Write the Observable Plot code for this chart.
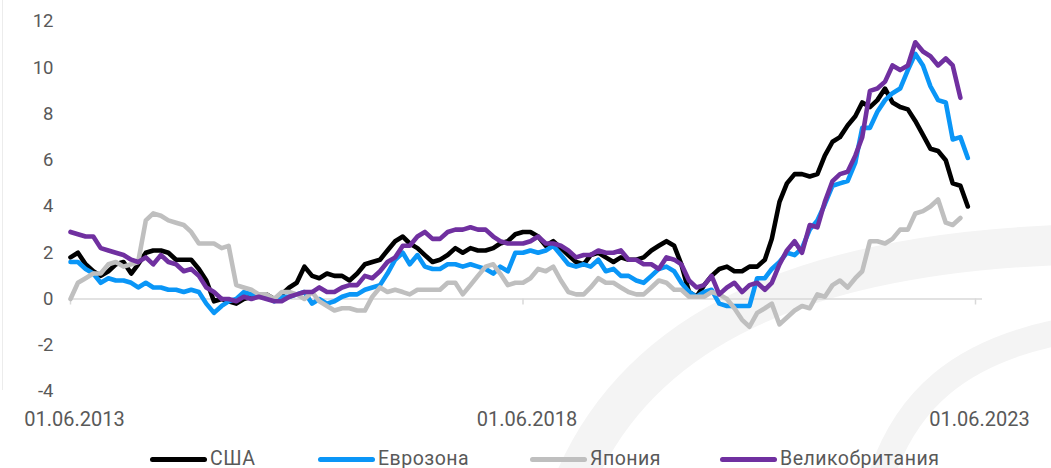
<!DOCTYPE html>
<html><head><meta charset="utf-8">
<script src="https://cdn.jsdelivr.net/npm/d3@7"></script>
<script src="https://cdn.jsdelivr.net/npm/@observablehq/plot@0.6"></script>
<style>
body{margin:0;background:#fff;font-family:Roboto,sans-serif;width:1051px;height:468px;overflow:hidden;position:relative}
#bg{position:absolute;left:0;top:0}
#chart{position:absolute;left:0;top:0}
#chart svg{background:transparent}
#legend{position:absolute;top:449px;left:0;width:1051px;height:20px;font-family:Roboto,sans-serif;font-size:19.5px;letter-spacing:0.5px;color:#595959}
.item{position:absolute;top:0;height:20px;line-height:20px;display:flex;align-items:center;white-space:nowrap}
.sw{width:57px;height:5px;border-radius:3px;margin-right:3px}
#edge{position:absolute;left:2px;top:0;width:1px;height:390px;background:#ececec}
</style></head><body>
<svg id="bg" width="1051" height="468">
  <path d="M 575 480 C 640 330 800 255 1060 245" fill="none" stroke="#f4f4f4" stroke-width="40"/>
  <path d="M 880 480 C 905 400 960 352 1060 332" fill="none" stroke="#f4f4f4" stroke-width="26"/>
</svg>
<div id="edge"></div>
<div id="chart"></div>
<div id="legend"></div>
<script>
const seriesNames = ["США", "Еврозона", "Япония", "Великобритания"];
const seriesColors = ["#000000", "#0a96f7", "#bfbfbf", "#7030a0"];
const firstMonth = "2013-06-01";
const lastMonth = "2023-06-01";
const xTickDates = ["2013-06-01", "2018-06-01", "2023-06-01"];
const yTicks = [-4, -2, 0, 2, 4, 6, 8, 10, 12];

// monthly values from Jun 2013
const usa = [
  1.8, 2.0, 1.5, 1.2, 1.0, 1.2, 1.5,
  1.6, 1.1, 1.5, 2.0, 2.1, 2.1, 2.0, 1.7, 1.7, 1.7, 1.3, 0.8,
  -0.1, 0.0, -0.1, -0.2, 0.0, 0.1, 0.2, 0.2, 0.0, 0.2, 0.5, 0.7,
  1.4, 1.0, 0.9, 1.1, 1.0, 1.0, 0.8, 1.1, 1.5, 1.6, 1.7, 2.1,
  2.5, 2.7, 2.4, 2.2, 1.9, 1.6, 1.7, 1.9, 2.2, 2.0, 2.2, 2.1,
  2.1, 2.2, 2.4, 2.5, 2.8, 2.9, 2.9, 2.7, 2.3, 2.5, 2.2, 1.9,
  1.6, 1.5, 1.9, 2.0, 1.8, 1.6, 1.8, 1.7, 1.7, 1.8, 2.1, 2.3,
  2.5, 2.3, 1.5, 0.3, 0.1, 0.6, 1.0, 1.3, 1.4, 1.2, 1.2, 1.4,
  1.4, 1.7, 2.6, 4.2, 5.0, 5.4, 5.4, 5.3, 5.4, 6.2, 6.8, 7.0,
  7.5, 7.9, 8.5, 8.3, 8.6, 9.1, 8.5, 8.3, 8.2, 7.7, 7.1, 6.5,
  6.4, 6.0, 5.0, 4.9, 4.0
];
const eurozone = [
  1.6, 1.6, 1.3, 1.1, 0.7, 0.9, 0.8,
  0.8, 0.7, 0.5, 0.7, 0.5, 0.5, 0.4, 0.4, 0.3, 0.4, 0.3, -0.2,
  -0.6, -0.3, -0.1, 0.0, 0.3, 0.2, 0.2, 0.1, -0.1, 0.1, 0.1, 0.2,
  0.3, -0.2, 0.0, -0.2, -0.1, 0.1, 0.2, 0.2, 0.4, 0.5, 0.6, 1.1,
  1.7, 2.0, 1.5, 1.9, 1.4, 1.3, 1.3, 1.5, 1.5, 1.4, 1.5, 1.4,
  1.3, 1.1, 1.4, 1.2, 2.0, 2.0, 2.1, 2.0, 2.1, 2.3, 1.9, 1.5,
  1.4, 1.5, 1.4, 1.7, 1.2, 1.3, 1.0, 1.0, 0.8, 0.7, 1.0, 1.3,
  1.4, 1.2, 0.7, 0.3, 0.1, 0.3, 0.4, -0.2, -0.3, -0.3, -0.3, -0.3,
  0.9, 0.9, 1.3, 1.6, 2.0, 1.9, 2.2, 3.0, 3.4, 4.1, 4.9, 5.0,
  5.1, 5.9, 7.4, 7.4, 8.1, 8.6, 8.9, 9.1, 9.9, 10.6, 10.1, 9.2,
  8.6, 8.5, 6.9, 7.0, 6.1
];
const japan = [
  0.0, 0.7, 0.9, 1.1, 1.1, 1.5, 1.6,
  1.4, 1.5, 1.6, 3.4, 3.7, 3.6, 3.4, 3.3, 3.2, 2.9, 2.4, 2.4,
  2.4, 2.2, 2.3, 0.6, 0.5, 0.4, 0.2, 0.2, 0.0, 0.3, 0.3, 0.2,
  0.0, 0.3, -0.1, -0.3, -0.5, -0.4, -0.4, -0.5, -0.5, 0.1, 0.5, 0.3,
  0.4, 0.3, 0.2, 0.4, 0.4, 0.4, 0.4, 0.7, 0.7, 0.2, 0.6, 1.0,
  1.4, 1.5, 1.1, 0.6, 0.7, 0.7, 0.9, 1.3, 1.2, 1.4, 0.8, 0.3,
  0.2, 0.2, 0.5, 0.9, 0.7, 0.7, 0.5, 0.3, 0.2, 0.2, 0.5, 0.8,
  0.7, 0.4, 0.4, 0.1, 0.1, 0.1, 0.3, 0.2, 0.0, -0.4, -0.9, -1.2,
  -0.6, -0.4, -0.2, -1.1, -0.8, -0.5, -0.3, -0.4, 0.2, 0.1, 0.6, 0.8,
  0.5, 0.9, 1.2, 2.5, 2.5, 2.4, 2.6, 3.0, 3.0, 3.7, 3.8, 4.0,
  4.3, 3.3, 3.2, 3.5
];
const uk = [
  2.9, 2.8, 2.7, 2.7, 2.2, 2.1, 2.0,
  1.9, 1.7, 1.6, 1.8, 1.5, 1.9, 1.6, 1.5, 1.2, 1.3, 1.0, 0.5,
  0.3, 0.0, 0.0, -0.1, 0.1, 0.0, 0.1, 0.0, -0.1, -0.1, 0.1, 0.2,
  0.3, 0.3, 0.5, 0.3, 0.3, 0.5, 0.6, 0.6, 1.0, 0.9, 1.2, 1.6,
  1.8, 2.3, 2.3, 2.7, 2.9, 2.6, 2.6, 2.9, 3.0, 3.0, 3.1, 3.0,
  3.0, 2.7, 2.5, 2.4, 2.4, 2.4, 2.5, 2.7, 2.4, 2.4, 2.3, 2.1,
  1.8, 1.9, 1.9, 2.1, 2.0, 2.0, 2.1, 1.7, 1.7, 1.5, 1.5, 1.3,
  1.8, 1.7, 1.5, 0.8, 0.5, 0.6, 1.0, 0.2, 0.5, 0.7, 0.3, 0.6,
  0.7, 0.4, 0.7, 1.5, 2.1, 2.5, 2.0, 3.2, 3.1, 4.2, 5.1, 5.4,
  5.5, 6.2, 7.0, 9.0, 9.1, 9.4, 10.1, 9.9, 10.1, 11.1, 10.7, 10.5,
  10.1, 10.4, 10.1, 8.7
];

const start = new Date(firstMonth);
const end = new Date(lastMonth);
const xTicks = xTickDates.map(d => new Date(d));
const rows = [];
[usa, eurozone, japan, uk].forEach((vals, s) =>
  vals.forEach((v, i) => rows.push({date: d3.utcMonth.offset(start, i), value: v, series: seriesNames[s]})));

const chart = Plot.plot({
  width: 1051, height: 440,
  marginLeft: 70, marginRight: 76, marginTop: 21, marginBottom: 49,
  style: {fontFamily: "Roboto, sans-serif", color: "#595959", background: "transparent"},
  x: {type: "utc", domain: [start, end]},
  y: {domain: [-4, 12]},
  color: {domain: seriesNames, range: seriesColors},
  marks: [
    Plot.ruleY([0], {stroke: "#d9d9d9", strokeWidth: 1.5, insetRight: -7}),
    Plot.ruleX(xTicks, {x: d => d, y1: 0, y2: 0, insetBottom: -6, stroke: "#d9d9d9", strokeWidth: 1.5}),
    Plot.axisY(yTicks, {tickSize: 0, tickPadding: 17, fontSize: 18.5, label: null, tickFormat: d => String(d)}),
    Plot.axisX(xTicks, {tickSize: 0, tickPadding: 20, fontSize: 20, label: null, tickFormat: d3.utcFormat("%d.%m.%Y"), dx: 4}),
    Plot.line(rows, {x: "date", y: "value", stroke: "series", z: "series", strokeWidth: 4.6})
  ]
});
document.getElementById("chart").append(chart);

const legendLefts = [150, 318, 530, 720];
const legend = document.getElementById("legend");
seriesNames.forEach((name, i) => {
  const item = document.createElement("div");
  item.className = "item";
  item.style.left = legendLefts[i] + "px";
  const sw = document.createElement("span");
  sw.className = "sw";
  sw.style.background = seriesColors[i];
  const t = document.createElement("span");
  t.textContent = name;
  item.append(sw, t);
  legend.append(item);
});
</script>
</body></html>
